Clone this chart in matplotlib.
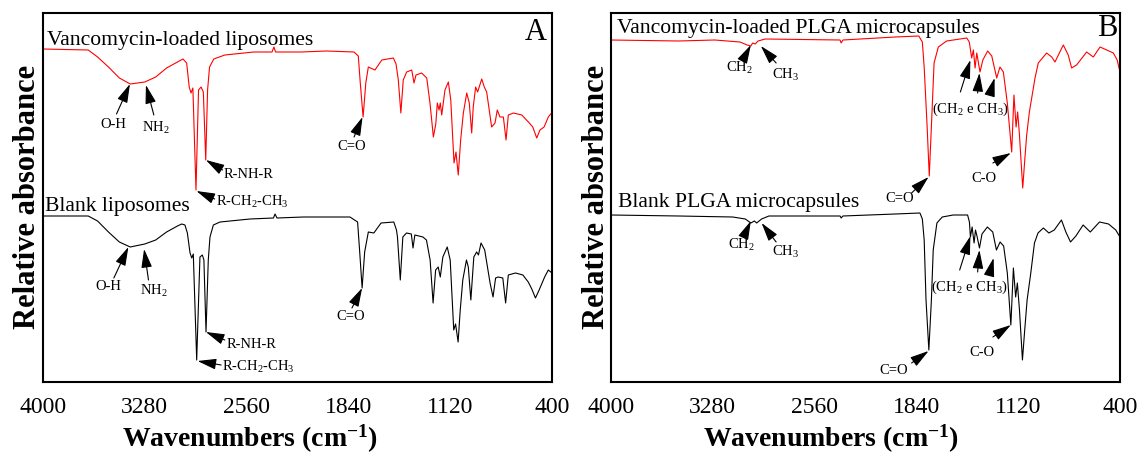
import matplotlib
matplotlib.use("Agg")
import matplotlib.pyplot as plt

plt.rcParams['font.family'] = ['Liberation Serif', 'DejaVu Serif']
plt.rcParams['mathtext.fontset'] = 'custom'
plt.rcParams['mathtext.rm'] = 'Liberation Serif'
plt.rcParams['mathtext.it'] = 'Liberation Serif:italic'
plt.rcParams['mathtext.bf'] = 'Liberation Serif:bold'

# ---------------- data (wavenumber, relative absorbance, arbitrary units) ----------------
x_ticks = [4000, 3280, 2560, 1840, 1120, 400]

lipo_loaded_wn = [4000, 3680, 3614, 3537, 3460, 3383, 3280, 3203, 3126, 3049, 3010, 2984, 2966, 2953, 2940,
                  2918, 2900, 2882, 2866, 2849, 2836, 2822, 2792, 2714, 2509, 2380, 2367, 2355, 2175, 1995,
                  1800, 1770, 1756, 1736, 1717, 1699, 1652, 1604, 1522, 1503, 1487, 1469, 1452, 1428, 1392,
                  1376, 1362, 1322, 1286, 1263, 1239, 1222, 1211, 1199, 1190, 1180, 1157, 1133, 1116, 1093,
                  1079, 1063, 1046, 1027, 1003, 985, 968, 957, 940, 926, 897, 879, 862, 827, 803, 787, 768,
                  744, 725, 709, 673, 614, 567, 536, 508, 485, 456, 426, 409, 400]
lipo_loaded_abs = [333, 332, 325, 315, 304, 298, 300, 305, 314, 320, 323, 319, 295, 289, 294,
                   192, 292, 295, 290, 222, 292, 315, 323, 327, 330, 330, 335, 330, 330, 331,
                   330, 326, 299, 265, 299, 315, 312, 322, 324, 318, 302, 269, 302, 310, 312,
                   299, 307, 309, 304, 279, 245, 258, 279, 272, 279, 267, 292, 300, 282, 219,
                   230, 207, 242, 269, 289, 279, 249, 275, 295, 290, 303, 295, 290, 255, 259, 272, 265,
                   265, 242, 267, 269, 267, 260, 255, 244, 252, 255, 265, 268, 269]

lipo_blank_wn = [4000, 3680, 3614, 3537, 3460, 3383, 3280, 3203, 3126, 3049, 3019, 2996, 2979, 2960, 2948,
                 2937, 2913, 2890, 2873, 2862, 2847, 2831, 2819, 2795, 2748, 2536, 2370, 2359, 2345, 2159,
                 1829, 1775, 1760, 1743, 1725, 1699, 1660, 1609, 1519, 1500, 1493, 1473, 1455, 1429, 1395,
                 1383, 1370, 1313, 1288, 1262, 1241, 1223, 1205, 1190, 1172, 1141, 1120, 1095, 1082, 1064,
                 1049, 1031, 1005, 992, 974, 953, 933, 920, 902, 876, 838, 817, 799, 781, 748, 728, 709,
                 658, 606, 568, 543, 517, 491, 452, 426, 400]
lipo_blank_abs = [166, 166, 161, 150, 140, 135, 138, 142, 150, 156, 158, 157, 149, 129, 124,
                  128, 22, 125, 127, 122, 50, 122, 145, 157, 160, 163, 164, 168, 164, 165,
                  165, 160, 130, 94, 130, 150, 149, 159, 160, 152, 145, 102, 145, 149, 148,
                  134, 147, 145, 142, 122, 79, 112, 115, 105, 125, 135, 122, 52, 58, 40,
                  72, 102, 122, 115, 82, 125, 130, 127, 139, 132, 99, 85, 104, 105, 104, 79, 107,
                  109, 107, 100, 93, 84, 92, 105, 112, 109]

plga_loaded_wn = [4000, 3522, 3267, 3088, 3037, 3011, 2998, 2980, 2960, 2909, 2380, 2372, 2360, 1989, 1823,
                  1798, 1785, 1764, 1749, 1732, 1715, 1685, 1626, 1484, 1466, 1449, 1437, 1425, 1413, 1400,
                  1390, 1370, 1336, 1307, 1272, 1249, 1225, 1197, 1166, 1150, 1135, 1124, 1112, 1088, 1072,
                  1060, 1041, 1001, 978, 919, 883, 860, 801, 766, 742, 707, 636, 589, 541, 494, 447, 420, 400]
plga_loaded_abs = [342, 341, 342, 340, 337, 336, 339, 338, 341, 343, 342, 339, 342, 345, 346,
                   340, 315, 255, 206, 262, 319, 335, 341, 344, 340, 324, 332, 314, 329, 318,
                   310, 322, 331, 326, 304, 315, 310, 279, 230, 287, 255, 270, 249, 194, 225,
                   247, 270, 304, 319, 329, 325, 320, 337, 327, 314, 317, 330, 325, 335, 332, 329, 322, 310]

plga_blank_wn = [4000, 3522, 3139, 3050, 3011, 2986, 2970, 2935, 2883, 2380, 2372, 2360, 1989, 1815, 1798,
                 1785, 1772, 1752, 1734, 1721, 1695, 1657, 1580, 1478, 1465, 1458, 1446, 1432, 1422, 1410,
                 1394, 1376, 1338, 1300, 1274, 1248, 1223, 1197, 1172, 1154, 1138, 1126, 1111, 1090, 1075,
                 1057, 1031, 1005, 980, 942, 903, 865, 814, 783, 750, 712, 661, 610, 545, 481, 430, 400]
plga_blank_abs = [167, 166, 165, 163, 159, 161, 159, 163, 166, 166, 164, 166, 168, 169, 163,
                  142, 82, 32, 82, 132, 159, 165, 167, 167, 160, 145, 155, 139, 152, 145,
                  134, 148, 155, 150, 132, 140, 136, 109, 57, 114, 85, 99, 72, 22, 50,
                  82, 109, 139, 149, 154, 149, 152, 162, 150, 140, 146, 157, 150, 160, 158, 152, 145]

# ---------------- figure ----------------
W, H = 1137, 457
fig = plt.figure(figsize=(W / 100, H / 100), dpi=100)
axA = fig.add_axes([43 / W, 75 / H, 509 / W, 369 / H])
axB = fig.add_axes([611 / W, 75 / H, 509 / W, 369 / H])

RED = '#ff0000'
arrow_kw = dict(arrowstyle='-|>,head_length=1.15,head_width=0.33', color='black', lw=0.8,
                shrinkA=0, shrinkB=0, mutation_scale=10)
ANN = 10.5
LAB = 15.6


def arrow(ax, tail, head):
    ax.annotate('', xy=head, xytext=tail, arrowprops=arrow_kw)


for ax in (axA, axB):
    ax.set_xlim(4000, 400)
    ax.set_ylim(0, 369)
    ax.set_xticks(x_ticks)
    ax.set_xticklabels([str(t) for t in x_ticks])
    ax.set_yticks([])
    ax.tick_params(axis='x', length=0, pad=11, labelsize=17)
    for s in ax.spines.values():
        s.set_linewidth(1.5)

# Panel A
axA.plot(lipo_loaded_wn, lipo_loaded_abs, color=RED, lw=0.8)
axA.plot(lipo_blank_wn, lipo_blank_abs, color='black', lw=0.8)
axA.text(3972, 342, 'Vancomycin-loaded liposomes', fontsize=LAB, ha='left', va='center')
axA.text(3986, 175, 'Blank liposomes', fontsize=LAB, ha='left', va='center')
axA.text(513, 349, 'A', fontsize=22, ha='center', va='center')

# red annotations
axA.text(3505, 257, 'O-H', fontsize=ANN, ha='center', va='center')
arrow(axA, (3480, 268), (3385, 298))
axA.text(3203, 254, 'NH$_2$', fontsize=ANN, ha='center', va='center')
arrow(axA, (3216, 267), (3272, 297))
axA.text(2725, 207, 'R-NH-R', fontsize=ANN, ha='left', va='center')
arrow(axA, (2730, 212), (2848, 222))
axA.text(2779, 180, 'R-CH$_2$-CH$_3$', fontsize=ANN, ha='left', va='center')
arrow(axA, (2786, 183), (2915, 191))
axA.text(1815, 235, 'C=O', fontsize=ANN, ha='center', va='center')
arrow(axA, (1800, 245), (1740, 265))

# black annotations
axA.text(3537, 95, 'O-H', fontsize=ANN, ha='center', va='center')
arrow(axA, (3499, 104), (3396, 135))
axA.text(3216, 91, 'NH$_2$', fontsize=ANN, ha='center', va='center')
arrow(axA, (3254, 102), (3285, 133))
axA.text(2702, 38, 'R-NH-R', fontsize=ANN, ha='left', va='center')
arrow(axA, (2714, 42), (2848, 50))
axA.text(2735, 15, 'R-CH$_2$-CH$_3$', fontsize=ANN, ha='left', va='center')
arrow(axA, (2740, 17), (2907, 21))
axA.text(1827, 65, 'C=O', fontsize=ANN, ha='center', va='center')
arrow(axA, (1815, 74), (1743, 94))

# Panel B
axB.plot(plga_loaded_wn, plga_loaded_abs, color=RED, lw=0.8)
axB.plot(plga_blank_wn, plga_blank_abs, color='black', lw=0.8)
axB.text(3958, 353, 'Vancomycin-loaded PLGA microcapsules', fontsize=LAB, ha='left', va='center')
axB.text(3950, 179, 'Blank PLGA microcapsules', fontsize=LAB, ha='left', va='center')
axB.text(492, 354, 'B', fontsize=22, ha='center', va='center')

# red annotations
axB.text(3088, 314, 'CH$_2$', fontsize=ANN, ha='center', va='center')
arrow(axB, (3067, 322), (3011, 337))
axB.text(2768, 307, 'CH$_3$', fontsize=ANN, ha='center', va='center')
arrow(axB, (2832, 319), (2940, 336))
axB.text(1959, 183, 'C=O', fontsize=ANN, ha='center', va='center')
arrow(axB, (1874, 189), (1754, 205))
axB.text(1461, 273, '(CH$_2$ e CH$_3$)', fontsize=ANN, ha='center', va='center')
arrow(axB, (1529, 290), (1458, 322))
arrow(axB, (1407, 289), (1394, 309))
arrow(axB, (1317, 289), (1287, 304))
axB.text(1363, 204, 'C-O', fontsize=ANN, ha='center', va='center')
arrow(axB, (1299, 219), (1172, 229))

# black annotations
axB.text(3075, 137, 'CH$_2$', fontsize=ANN, ha='center', va='center')
arrow(axB, (3062, 145), (3011, 161))
axB.text(2768, 130, 'CH$_3$', fontsize=ANN, ha='center', va='center')
arrow(axB, (2832, 140), (2935, 159))
axB.text(2002, 12, 'C=O', fontsize=ANN, ha='center', va='center')
arrow(axB, (1874, 19), (1754, 31))
axB.text(1465, 95, '(CH$_2$ e CH$_3$)', fontsize=ANN, ha='center', va='center')
arrow(axB, (1534, 112), (1458, 146))
arrow(axB, (1407, 110), (1394, 132))
arrow(axB, (1325, 107), (1294, 124))
axB.text(1376, 30, 'C-O', fontsize=ANN, ha='center', va='center')
arrow(axB, (1299, 45), (1172, 57))

# axis labels
xlab = r'Wavenumbers (cm$^{\mathbf{-1}}$)'
fig.text(250 / W, 1 - 439 / H, xlab, fontsize=20, fontweight='bold', ha='center', va='center')
fig.text(831 / W, 1 - 439 / H, xlab, fontsize=20, fontweight='bold', ha='center', va='center')
fig.text(28 / W, 1 - 197 / H, 'Relative absorbance', fontsize=22, fontweight='bold',
         rotation=90, ha='center', va='center')
fig.text(597 / W, 1 - 197 / H, 'Relative absorbance', fontsize=22, fontweight='bold',
         rotation=90, ha='center', va='center')

fig.savefig('out.png', dpi=100)
